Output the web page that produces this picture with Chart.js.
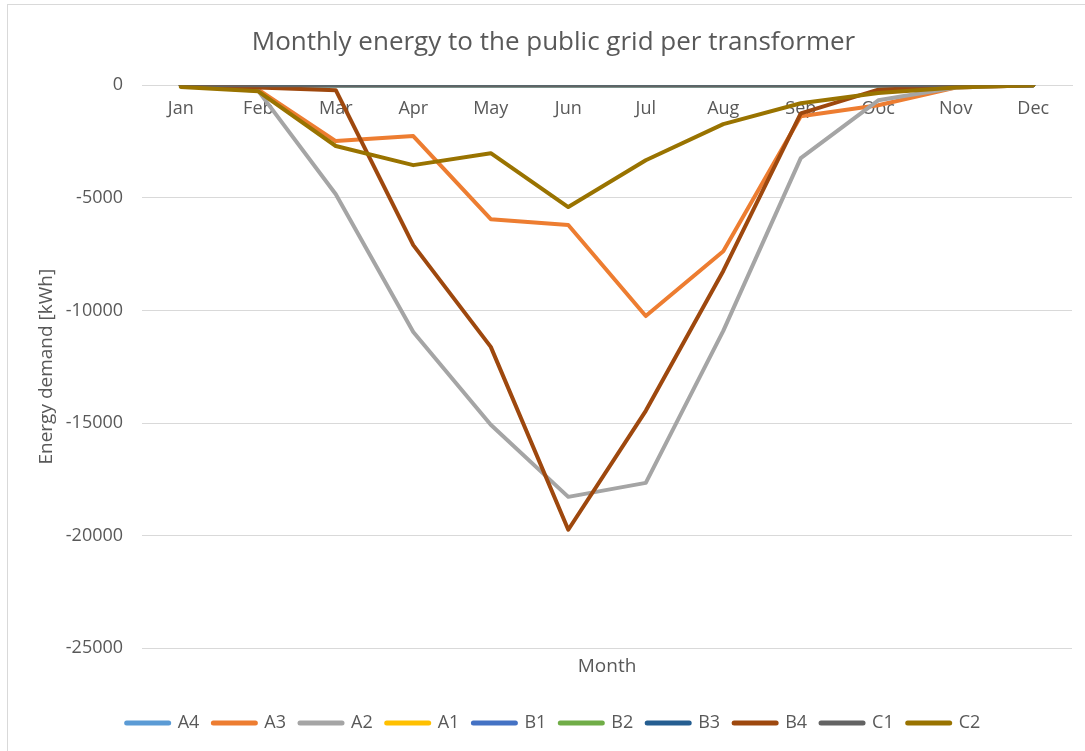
<!DOCTYPE html>
<html>
<head>
<meta charset="utf-8">
<script src="https://cdn.jsdelivr.net/npm/chart.js@4"></script>
<style>
  html, body { margin:0; padding:0; background:#fff; overflow:hidden; }
  #box { position:absolute; left:7px; top:4px; width:1090px; height:760px; border:1px solid #d9d9d9; }
  #wrap { position:absolute; left:0; top:0; width:1077px; height:746px; }
</style>
</head>
<body>
<div id="box"><div id="wrap"><canvas id="chart"></canvas></div></div>
<script>
// categories
const months = ['Jan','Feb','Mar','Apr','May','Jun','Jul','Aug','Sep','Ooc','Nov','Dec'];

// series values (kWh)
const A4 = [0,0,0,0,0,0,0,0,0,0,0,0];
const A3 = [-30,-200,-2480,-2260,-5950,-6210,-10250,-7370,-1380,-890,-100,0];
const A2 = [-30,-250,-4840,-10960,-15080,-18280,-17660,-10910,-3240,-670,-100,0];
const A1 = [0,0,0,0,0,0,0,0,0,0,0,0];
const B1 = [0,0,0,0,0,0,0,0,0,0,0,0];
const B2 = [0,0,0,0,0,0,0,0,0,0,0,0];
const B3 = [0,0,0,0,0,0,0,0,0,0,0,0];
const B4 = [-30,-100,-220,-7100,-11620,-19740,-14460,-8250,-1250,-200,-50,0];
const C1 = [0,0,0,0,0,0,0,0,0,0,0,0];
const C2 = [-80,-270,-2700,-3550,-3020,-5410,-3330,-1730,-800,-350,-100,0];

const seriesNames = ['A4','A3','A2','A1','B1','B2','B3','B4','C1','C2'];
const seriesData = [A4,A3,A2,A1,B1,B2,B3,B4,C1,C2];
const seriesColors = ['#5B9BD5','#ED7D31','#A5A5A5','#FFC000','#4472C4','#70AD47','#255E91','#9E480E','#636363','#997300'];

const FONT = '"Open Sans", sans-serif';
const GREY = '#595959';

// later series drawn on top, like the original
const datasets = seriesNames.map((name, i) => ({
  label: name,
  data: seriesData[i],
  borderColor: seriesColors[i],
  backgroundColor: seriesColors[i],
  borderWidth: 4,
  borderCapStyle: 'round',
  borderJoinStyle: 'round',
  pointRadius: 0,
  fill: false,
  tension: 0,
  order: seriesNames.length - i
}));

new Chart(document.getElementById('chart'), {
  type: 'line',
  data: { labels: months, datasets: datasets },
  options: {
    responsive: true,
    maintainAspectRatio: false,
    animation: false,
    layout: { padding: { left: 27, right: 13, top: 22, bottom: 9 } },
    plugins: {
      title: {
        display: true,
        text: 'Monthly energy to the public grid per transformer',
        color: GREY,
        font: { family: FONT, size: 26, weight: 'normal' },
        padding: { top: 0, bottom: 27 }
      },
      legend: {
        position: 'bottom',
        labels: {
          usePointStyle: true,
          pointStyle: 'line',
          pointStyleWidth: 42,
          color: GREY,
          font: { family: FONT, size: 18 },
          padding: 14,
          sort: (a, b) => a.datasetIndex - b.datasetIndex,
          generateLabels: (chart) => {
            const items = Chart.defaults.plugins.legend.labels.generateLabels(chart);
            items.forEach(it => { it.lineWidth = 5; it.lineCap = 'round'; });
            return items;
          }
        }
      },
      tooltip: { enabled: false }
    },
    scales: {
      x: {
        position: { y: 0 },
        offset: true,
        grid: { display: false, drawTicks: false },
        border: { display: true, color: '#d9d9d9', width: 1 },
        ticks: { color: GREY, font: { family: FONT, size: 18 }, padding: 13, maxRotation: 0 }
      },
      x2: {
        type: 'category',
        labels: months,
        position: 'bottom',
        offset: true,
        grid: { display: false, drawTicks: false },
        border: { display: false },
        ticks: { display: false },
        title: { display: true, text: 'Month', color: GREY, font: { family: FONT, size: 19 }, padding: { top: 7, bottom: 22 } }
      },
      y: {
        min: -25000,
        max: 0,
        ticks: { stepSize: 5000, color: GREY, font: { family: FONT, size: 18 }, padding: 19, callback: (v) => String(v) },
        grid: { color: '#d9d9d9', drawTicks: false },
        border: { display: false },
        title: { display: true, text: 'Energy demand [kWh]', color: GREY, font: { family: FONT, size: 19 }, padding: { top: 0, bottom: -11 } }
      }
    }
  }
});
</script>
</body>
</html>
